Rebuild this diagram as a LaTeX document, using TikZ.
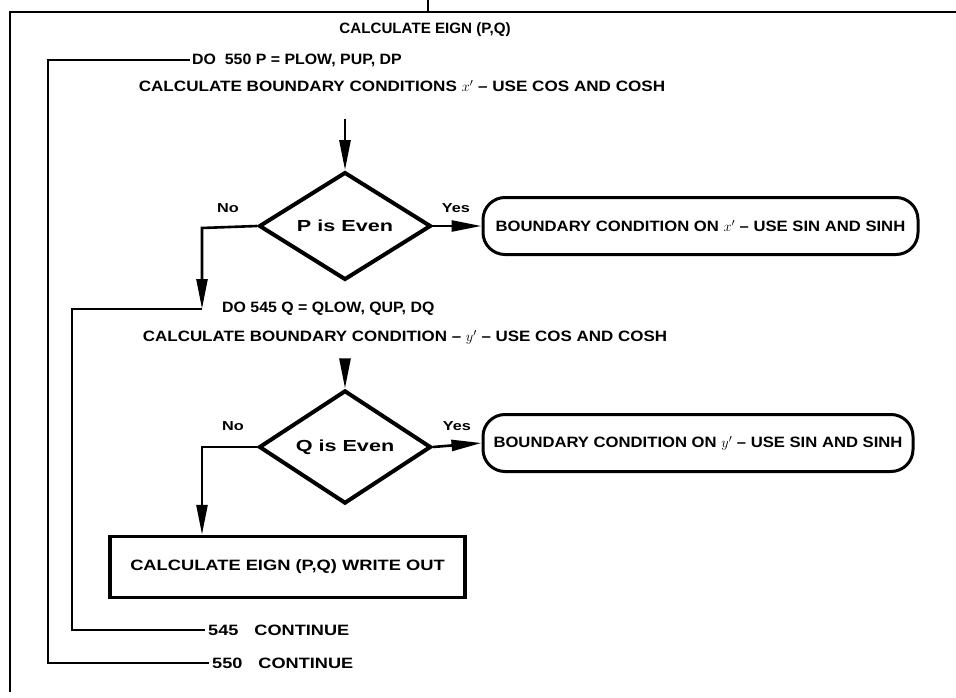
\documentclass[tikz,border=0pt]{standalone}
\usepackage{fontspec}
\setmainfont{Liberation Sans}
\usetikzlibrary{shapes.geometric,arrows.meta}
\newcommand\wf[2]{\fontspec[FakeStretch=#1,Ligatures=TeX]{Liberation Sans}\bfseries\fontsize{#2}{#2}\selectfont}
\begin{document}
\begin{tikzpicture}[x=1pt,y=-1pt,
  lbl/.style={inner sep=0pt},
  small/.style={font=\wf{1.25}{13}, inner sep=0pt},
  frame/.style={line width=2.2pt},
  conn/.style={line width=2.4pt},
  arr/.style={line width=2.6pt, -{Triangle[length=30pt,width=11pt]}},
  dia/.style={diamond, draw, line width=4pt, minimum width=172pt, minimum height=104pt, inner sep=0pt, font=\wf{1.35}{16}},
  rbox/.style={draw, line width=3pt, rounded corners=22pt, minimum height=57pt, inner sep=0pt, font=\wf{1.11}{15}},
  sbox/.style={draw, line width=3.5pt, minimum height=61pt, minimum width=355pt, inner sep=0pt, font=\wf{1.22}{15}}
]
\useasboundingbox (0,0) rectangle (956,698);
% frame and entry
\coordinate (e0) at (428,0);
\coordinate (e1) at (428,12);
\coordinate (fl) at (10,12);
\coordinate (fb) at (10,692);
\coordinate (fr) at (956,12);
\draw[frame] (e0) -- (e1);
\draw[frame] (fb) -- (fl) -- (fr);

\node[lbl, font=\wf{1.01}{15}] (title) at (425,30) {CALCULATE EIGN (P,Q)};
\node[lbl, font=\wf{1.06}{15}, anchor=west] (do550) at (192,60) {DO\ \ 550 P = PLOW, PUP, DP};
\node[lbl, font=\wf{1.14}{15}] (cbc1) at (402,86) {CALCULATE BOUNDARY CONDITIONS $x'$ – USE COS AND COSH};

\coordinate (a1) at (345,119);
\node[dia] (d1) at (345,226) {P is Even};
\node[small] (no1) at (228,208) {No};
\node[small] (yes1) at (456,208) {Yes};
\node[rbox, minimum width=435pt] (r1) at (700.5,226) {BOUNDARY CONDITION ON $x'$ – USE SIN AND SINH};

\node[lbl, font=\wf{1.06}{15}, anchor=west] (do545) at (222,309) {DO 545 Q = QLOW, QUP, DQ};
\node[lbl, font=\wf{1.13}{15}] (cbc2) at (405,337) {CALCULATE BOUNDARY CONDITION – $y'$ – USE COS AND COSH};

\coordinate (a2) at (345,360);
\node[dia] (d2) at (345,447) {Q is Even};
\node[small] (no2) at (233,426) {No};
\node[small] (yes2) at (457,426) {Yes};
\node[rbox, minimum width=430pt] (r2) at (698,443) {BOUNDARY CONDITION ON $y'$ – USE SIN AND SINH};

\node[sbox] (calc) at (287.5,567) {CALCULATE EIGN (P,Q) WRITE OUT};

\node[lbl, font=\wf{1.21}{15}, anchor=west] (c545) at (208,630) {545\hspace{16pt}CONTINUE};
\node[lbl, font=\wf{1.21}{15}, anchor=west] (c550) at (212,663) {550\hspace{16pt}CONTINUE};

% loops
\coordinate (j1) at (202,309);
\coordinate (k1) at (202,228);
\coordinate (k2) at (202,447);
\coordinate (l550) at (48,60);
\coordinate (l545) at (72,309);
\draw[conn] (do550.west) ++(-2,0) -- (l550) |- ([xshift=-3pt]c550.west);
\draw[conn] (j1) -- (l545) |- ([xshift=-3pt]c545.west);

% flow
\draw[arr] (a1) -- (d1.north);
\draw[arr] (d1.west) -- (k1) -- (j1);
\draw[arr] (d1.east) -- (r1.west);
\draw[arr] (a2) -- (d2.north);
\draw[arr] (d2.east) -- (r2.west);
\draw[arr] (d2.west) -- (k2) -- (k2 |- calc.north);
\end{tikzpicture}
\end{document}
